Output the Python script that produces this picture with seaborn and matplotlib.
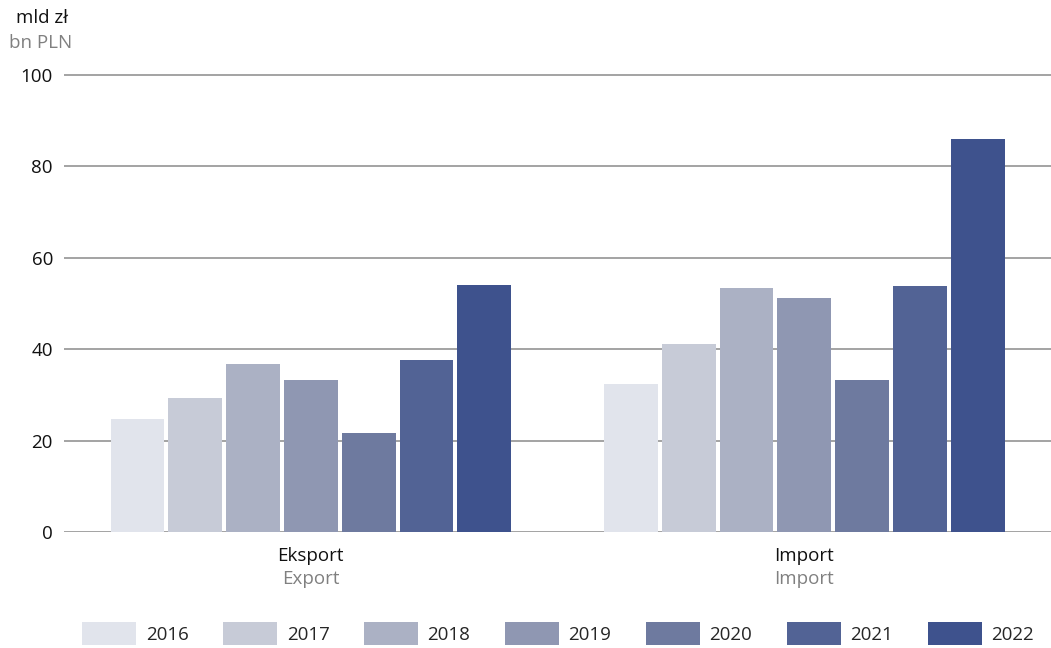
import seaborn as sns
import matplotlib.pyplot as plt
import pandas as pd

years = ["2016", "2017", "2018", "2019", "2020", "2021", "2022"]
categories = ["Eksport", "Import"]
categories_en = ["Export", "Import"]
export_vals = [24.7, 29.3, 36.7, 33.2, 21.6, 37.6, 54.1]
import_vals = [32.3, 41.0, 53.3, 51.1, 33.2, 53.7, 86.0]
colors = ["#E1E4EC", "#C7CBD7", "#ABB1C4", "#8F97B2", "#6E7A9F", "#526395", "#3E528D"]

df = pd.DataFrame({
    "kategoria": [categories[0]] * 7 + [categories[1]] * 7,
    "rok": years * 2,
    "wartosc": export_vals + import_vals,
})

sns.set_theme(style="white")
plt.rcParams["font.family"] = ["Open Sans", "DejaVu Sans"]

fig = plt.figure(figsize=(10.51, 6.48), dpi=100)
ax = fig.add_axes([0.061, 0.179, 0.939, 0.7095])

sns.barplot(data=df, x="kategoria", y="wartosc", hue="rok", palette=colors,
            width=0.82, gap=0.07, saturation=1, linewidth=0, ax=ax, legend=True)

ax.set_ylim(0, 100.5)
ax.set_xlim(-0.5, 1.5)
ax.set_yticks([0, 20, 40, 60, 80, 100])
ax.yaxis.grid(True, color="#8a8a8a", linewidth=1.1)
ax.set_axisbelow(True)
for s in ax.spines.values():
    s.set_visible(False)
ax.tick_params(axis="y", length=0, labelsize=13.5, pad=8, colors="#111111")
ax.tick_params(axis="x", length=0)
ax.set_xticks([0, 1])
ax.set_xticklabels([])
ax.set_xlabel("")
ax.set_ylabel("")

for i, (pl, en) in enumerate(zip(categories, categories_en)):
    ax.text(i, -3.2, pl, ha="center", va="top", fontsize=13.5, color="#111111")
    ax.text(i, -8.2, en, ha="center", va="top", fontsize=13.5, color="#808080")

fig.text(0.015, 0.972, "mld zł", ha="left", va="center", fontsize=13.5, color="#111111")
fig.text(0.009, 0.934, "bn PLN", ha="left", va="center", fontsize=13.5, color="#808080")

handles, labels = ax.get_legend_handles_labels()
ax.legend(handles, labels, ncol=7, loc="center", bbox_to_anchor=(0.531, 0.0224),
          bbox_transform=fig.transFigure, frameon=False, fontsize=13.5,
          handlelength=2.88, handleheight=1.45, handletextpad=0.5,
          columnspacing=1.85, borderaxespad=0)

fig.savefig("out.png", dpi=100)
